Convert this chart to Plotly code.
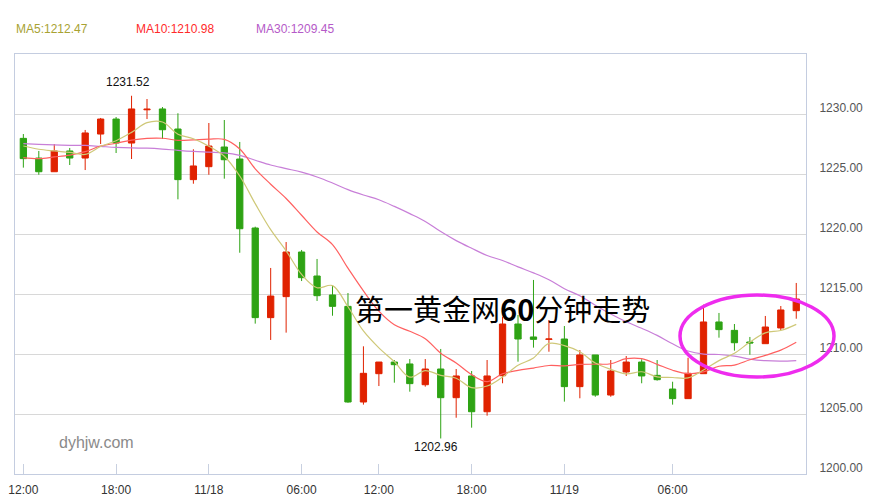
import plotly.graph_objects as go

# ---- data ----
idx = list(range(51))
opens = [1227.97, 1226.33, 1225.19, 1226.92, 1226.33, 1228.33, 1229.58, 1227.58, 1230.35, 1230.42,
         1228.75, 1224.53, 1225.61, 1227.25, 1226.25, 1220.50, 1213.03, 1214.78, 1218.50, 1216.50,
         1214.92, 1213.97, 1206.00, 1208.36, 1209.33, 1209.17, 1207.44, 1208.75, 1206.36, 1208.17,
         1205.19, 1208.19, 1212.50, 1211.42, 1211.22, 1211.25, 1207.28, 1209.92, 1206.58, 1208.50,
         1209.33, 1208.22, 1207.08, 1206.28, 1208.36, 1212.67, 1211.97, 1211.00, 1210.86, 1212.17, 1213.61]
highs = [1228.33, 1226.92, 1227.50, 1227.17, 1228.67, 1229.67, 1229.75, 1231.52, 1231.25, 1230.58,
         1230.06, 1227.06, 1229.25, 1229.50, 1227.67, 1220.61, 1217.17, 1219.33, 1218.67, 1217.92,
         1215.75, 1215.08, 1210.64, 1209.33, 1209.50, 1209.58, 1209.58, 1210.42, 1208.75, 1208.58,
         1209.50, 1213.11, 1213.25, 1216.17, 1212.83, 1212.33, 1210.33, 1209.92, 1209.50, 1209.83,
         1209.56, 1209.50, 1207.69, 1209.69, 1214.11, 1213.42, 1212.50, 1211.42, 1213.17, 1214.00, 1215.92]
lows = [1225.53, 1224.94, 1225.19, 1225.75, 1225.33, 1227.50, 1226.75, 1226.25, 1229.58, 1227.92,
        1222.89, 1224.19, 1224.94, 1224.61, 1218.44, 1212.53, 1211.17, 1211.78, 1216.08, 1214.42,
        1213.19, 1205.94, 1205.78, 1207.33, 1207.61, 1206.86, 1207.28, 1202.96, 1204.69, 1203.86,
        1204.86, 1207.56, 1209.36, 1210.53, 1210.19, 1206.03, 1206.31, 1206.44, 1206.44, 1208.17,
        1207.56, 1207.78, 1205.78, 1206.28, 1208.36, 1211.36, 1210.28, 1209.94, 1210.86, 1212.00, 1212.94]
closes = [1226.28, 1225.19, 1226.92, 1226.33, 1228.42, 1229.58, 1227.58, 1230.42, 1230.40, 1228.69,
          1224.53, 1225.67, 1227.33, 1226.19, 1220.44, 1213.03, 1214.83, 1218.50, 1216.36, 1214.86,
          1213.97, 1206.00, 1208.39, 1209.33, 1209.11, 1207.53, 1208.75, 1206.36, 1208.17, 1205.19,
          1208.17, 1212.50, 1211.25, 1211.22, 1211.25, 1207.28, 1209.92, 1206.58, 1208.58, 1209.33,
          1208.17, 1207.86, 1206.28, 1208.39, 1212.67, 1212.03, 1210.94, 1210.92, 1212.25, 1213.67, 1214.58]

ma5 = [1227.33, 1227.06, 1226.92, 1226.80, 1226.63, 1227.29, 1227.77, 1228.47, 1229.28, 1229.33,
       1228.32, 1227.94, 1227.32, 1226.48, 1224.83, 1222.53, 1220.36, 1218.60, 1216.63, 1215.52,
       1215.70, 1213.94, 1211.92, 1210.51, 1209.36, 1208.07, 1208.62, 1208.22, 1207.98, 1207.20,
       1207.33, 1208.08, 1209.06, 1209.67, 1210.88, 1210.70, 1210.18, 1209.25, 1208.72, 1208.34,
       1208.52, 1208.10, 1208.04, 1208.01, 1208.67, 1209.45, 1210.06, 1210.99, 1211.76, 1211.96, 1212.47]
ma10 = [1226.36, 1226.28, 1226.42, 1226.58, 1226.86, 1227.33, 1227.56, 1227.83, 1227.97, 1227.98,
        1227.81, 1227.85, 1227.90, 1227.88, 1227.08, 1225.43, 1224.15, 1222.96, 1221.56, 1220.17,
        1219.12, 1217.15, 1215.26, 1213.57, 1212.44, 1211.89, 1211.28, 1210.07, 1209.25, 1208.28,
        1207.70, 1208.35, 1208.64, 1208.83, 1209.04, 1209.01, 1209.13, 1209.15, 1209.19, 1209.61,
        1209.61, 1209.14, 1208.65, 1208.36, 1208.51, 1208.98, 1209.08, 1209.52, 1209.88, 1210.32, 1210.98]
ma30 = [1227.53, 1227.47, 1227.42, 1227.39, 1227.38, 1227.30, 1227.22, 1227.17, 1227.15, 1227.08,
        1226.97, 1226.88, 1226.82, 1226.76, 1226.55, 1226.15, 1225.75, 1225.45, 1225.15, 1224.75,
        1224.25, 1223.70, 1223.25, 1222.85, 1222.30, 1221.70, 1221.05, 1220.20, 1219.45, 1218.81,
        1218.21, 1217.79, 1217.26, 1216.76, 1216.19, 1215.44, 1214.85, 1214.06, 1213.33, 1212.69,
        1212.14, 1211.55, 1210.85, 1210.25, 1209.99, 1209.96, 1209.83, 1209.58, 1209.44, 1209.40, 1209.45]

xtick_pos = [0, 6, 12, 18, 23, 29, 35, 42]
xtick_text = ["12:00", "18:00", "11/18", "06:00", "12:00", "18:00", "11/19", "06:00"]
ytick_vals = [1200, 1205, 1210, 1215, 1220, 1225, 1230]
ytick_text = ["%.2f" % v for v in ytick_vals]

RED = "#e02200"
GREEN = "#2ea314"
FONT = "Liberation Sans, Arial, sans-serif"

fig = go.Figure()
fig.add_trace(go.Candlestick(
    x=idx, open=opens, high=highs, low=lows, close=closes,
    increasing=dict(line=dict(color=RED, width=1), fillcolor=RED),
    decreasing=dict(line=dict(color=GREEN, width=1), fillcolor=GREEN),
    whiskerwidth=0, showlegend=False, hoverinfo="skip"))
fig.add_trace(go.Scatter(x=idx, y=ma30, mode="lines", line=dict(color="#c87fd8", width=1.2, shape="spline"),
                         showlegend=False, hoverinfo="skip"))
fig.add_trace(go.Scatter(x=idx, y=ma10, mode="lines", line=dict(color="#ff6060", width=1.2, shape="spline"),
                         showlegend=False, hoverinfo="skip"))
fig.add_trace(go.Scatter(x=idx, y=ma5, mode="lines", line=dict(color="#cfc878", width=1.2, shape="spline"),
                         showlegend=False, hoverinfo="skip"))

W, H = 889, 501
L, T, R, B = 15, 54, 83, 27
pw, ph = W - L - R, H - T - B

def px(x):
    return (x - L) / pw

def py(y):
    return (H - B - y) / ph

anns = [
    dict(text="MA5:%.2f" % ma5[-1], x=px(14), y=py(29), color="#a8a232"),
    dict(text="MA10:%.2f" % ma10[-1], x=px(134), y=py(29), color="#ff2a2a"),
    dict(text="MA30:%.2f" % ma30[-1], x=px(254), y=py(29), color="#b55ac8"),
]
for a in anns:
    fig.add_annotation(text=a["text"], x=a["x"], y=a["y"], xref="paper", yref="paper",
                       xanchor="left", yanchor="middle", showarrow=False,
                       font=dict(family=FONT, size=12, color=a["color"]))

hi_i = highs.index(max(highs))
lo_i = lows.index(min(lows))
fig.add_annotation(text="%.2f" % highs[hi_i], x=hi_i, y=highs[hi_i], xshift=-4, yshift=5,
                   xanchor="center", yanchor="bottom", showarrow=False,
                   font=dict(family=FONT, size=12, color="#111"))
fig.add_annotation(text="%.2f" % lows[lo_i], x=lo_i, y=lows[lo_i], xshift=-5, yshift=0,
                   xanchor="center", yanchor="top", showarrow=False,
                   font=dict(family=FONT, size=12, color="#111"))
fig.add_annotation(text="dyhjw.com", x=px(96), y=py(442), xref="paper", yref="paper",
                   xanchor="center", yanchor="middle", showarrow=False,
                   font=dict(family=FONT, size=16, color="#8a8a8a"))
fig.add_annotation(text="第一黄金网<b>60</b>分钟走势", x=px(502), y=py(308), xref="paper", yref="paper",
                   xanchor="center", yanchor="middle", showarrow=False,
                   font=dict(family="Noto Sans CJK SC", size=29, color="#000"))

fig.add_shape(type="circle", xref="paper", yref="paper",
              x0=px(680), x1=px(834), y0=py(377), y1=py(295),
              line=dict(color="#ee2cee", width=3.5))

fig.update_layout(
    width=W, height=H, margin=dict(l=L, r=R, t=T, b=B, autoexpand=False),
    paper_bgcolor="white", plot_bgcolor="white",
    boxgap=0.42,
    font=dict(family=FONT, size=12, color="#444"),
    xaxis=dict(range=[-0.54, 50.63], rangeslider=dict(visible=False), showgrid=False, zeroline=False,
               automargin=False,
               tickmode="array", tickvals=xtick_pos, ticktext=xtick_text,
               ticks="inside", ticklen=10, tickcolor="#c8d0e0", tickwidth=1,
               showline=True, linecolor="#c4cde0", linewidth=1, mirror=True,
               tickfont=dict(family=FONT, size=12, color="#333"), ticklabelstandoff=5),
    yaxis=dict(range=[1200, 1235], side="right", tickmode="array", tickvals=ytick_vals,
               automargin=False,
               ticktext=ytick_text, showgrid=True, gridcolor="#d8d8d8", gridwidth=1, zeroline=False,
               showline=True, linecolor="#c4cde0", linewidth=1, mirror=True, ticks="",
               tickfont=dict(family=FONT, size=12, color="#555"), ticklabelstandoff=10,
               ticklabelshift=-6),
)

# remove the default 8px page margin so the figure sits at the window origin
fig.write_html("out.html", config={"displayModeBar": False},
               post_script="document.body.style.margin='0';")
